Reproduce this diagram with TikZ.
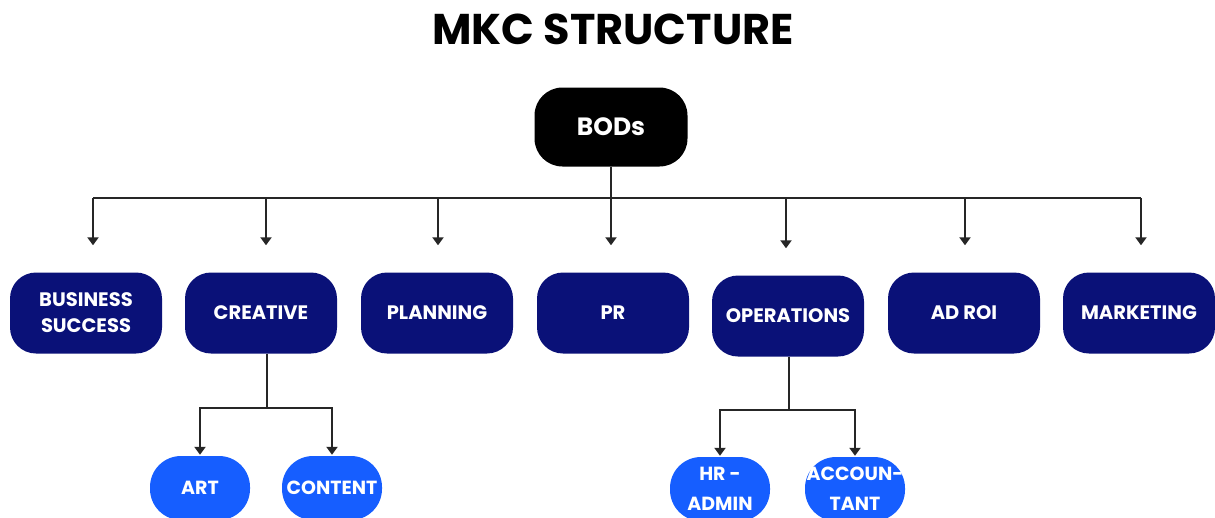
\documentclass[tikz,border=0pt]{standalone}
\usepackage{fontspec}
\setmainfont{Poppins}
\usetikzlibrary{arrows.meta}
\definecolor{navy}{RGB}{10,17,120}
\definecolor{brightblue}{RGB}{22,94,255}

\begin{document}
\begin{tikzpicture}[x=1pt,y=-1pt,
  lvlone/.style={fill=navy, text=white, rounded corners=26pt, minimum width=152pt, minimum height=81pt,
    align=center, font=\fontsize{19.5}{26}\selectfont\bfseries, inner sep=0pt},
  lvltwo/.style={fill=brightblue, text=white, rounded corners=31pt, minimum width=100pt, minimum height=64pt,
    align=center, font=\fontsize{19}{30}\selectfont\bfseries, inner sep=0pt},
  conn/.style={black!85, line width=2.2pt},
  arr/.style={conn, -{Triangle[width=11pt,length=8pt]}}]
\useasboundingbox (0,0) rectangle (1215,517);
\node[font=\fontsize{43}{48}\selectfont\bfseries] (title) at (613,29) {MKC STRUCTURE};
\node[fill=black, text=white, rounded corners=28pt, minimum width=153pt, minimum height=79pt,
  font=\fontsize{25}{28}\selectfont\bfseries] (bod) at (611,127) {BODs};
\node[lvlone] (bus) at (86,313) {BUSINESS\\SUCCESS};
\node[lvlone] (cre) at (261,313) {CREATIVE};
\node[lvlone] (pla) at (437,313) {PLANNING};
\node[lvlone] (pr) at (613,313) {PR};
\node[lvlone] (ope) at (788,316) {OPERATIONS};
\node[lvlone] (adr) at (964,313) {AD ROI};
\node[lvlone] (mar) at (1139,313) {MARKETING};
\node[lvltwo] (art) at (200,488) {ART};
\node[lvltwo] (con) at (332,488) {CONTENT};
\node[lvltwo] (hra) at (720,489) {HR -\\ADMIN};
\node[lvltwo] (acc) at (855,489) {ACCOUN-\\TANT};
\coordinate (b1) at (93,198);
\coordinate (b2) at (266,198);
\coordinate (b3) at (438,198);
\coordinate (b4) at (611,198);
\coordinate (b5) at (786,198);
\coordinate (b6) at (965,198);
\coordinate (b7) at (1141,198);
\coordinate (cj) at (267,408);
\coordinate (oj) at (789,410);
\draw[conn] (b1) -- (b7);
\draw[arr, shorten >=27pt] (bod.south) -- (bod.south |- pr.north);
\foreach \b/\n in {b1/bus,b2/cre,b3/pla,b5/ope,b6/adr,b7/mar}
  \draw[arr, shorten >=27pt] (\b) -- (\b |- \n.north);
\draw[conn] (cj |- cre.south) -- (cj);
\draw[arr, shorten >=1pt] (cj) -| (art.north);
\draw[arr, shorten >=1pt] (cj) -| (con.north);
\draw[conn] (oj |- ope.south) -- (oj);
\draw[arr, shorten >=1pt] (oj) -| (hra.north);
\draw[arr, shorten >=1pt] (oj) -| (acc.north);
\end{tikzpicture}
\end{document}
